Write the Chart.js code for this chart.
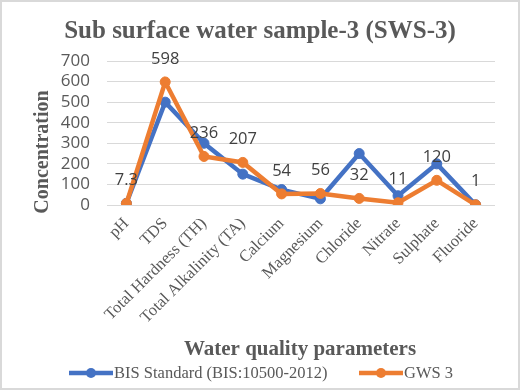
<!DOCTYPE html>
<html lang="en">
<head>
<meta charset="UTF-8">
<title>Sub surface water sample-3 (SWS-3)</title>
<script src="https://cdn.jsdelivr.net/npm/chart.js"></script>
<style>
  html, body { margin: 0; padding: 0; background: #fff; }
  canvas { display: block; }
</style>
</head>
<body>
<canvas id="chart" width="520" height="390"></canvas>
<script>
  // data
  const categories = ['pH', 'TDS', 'Total Hardness (TH)', 'Total Alkalinity (TA)', 'Calcium',
                      'Magnesium', 'Chloride', 'Nitrate', 'Sulphate', 'Fluoride'];
  const bisStandard = [8.5, 500, 300, 150, 75, 30, 250, 45, 200, 1];
  const gws3 = [7.3, 598, 236, 207, 54, 56, 32, 11, 120, 1];
  const gwsLabels = ['7.3', '598', '236', '207', '54', '56', '32', '11', '120', '1'];
  const seriesNames = ['BIS Standard (BIS:10500-2012)', 'GWS 3'];
  const yMin = 0, yMax = 700, yStep = 100;

  const BLUE = '#4472C4', ORANGE = '#ED7D31', GREY = '#595959';
  const SERIF = '"Liberation Serif", "Times New Roman", serif';
  const SANS = '"Open Sans", "Liberation Sans", sans-serif';

  // white card with thin grey frame
  const frame = {
    id: 'frame',
    beforeDraw(chart) {
      const c = chart.ctx;
      c.save();
      c.fillStyle = '#fff';
      c.fillRect(0, 0, chart.width, chart.height);
      c.strokeStyle = '#d9d9d9';
      c.lineWidth = 2;
      c.strokeRect(1, 1, chart.width - 2, chart.height - 2);
      c.restore();
    }
  };

  // value labels above the GWS 3 points
  const valueLabels = {
    id: 'valueLabels',
    afterDatasetsDraw(chart) {
      const c = chart.ctx;
      const pts = chart.getDatasetMeta(1).data;
      c.save();
      c.font = '16.5px ' + SANS;
      c.fillStyle = '#404040';
      c.textAlign = 'center';
      c.textBaseline = 'middle';
      pts.forEach((p, i) => c.fillText(gwsLabels[i], p.x, p.y - 23));
      c.restore();
    }
  };

  // titles and legend, placed like the Excel original
  const texts = {
    id: 'texts',
    afterDraw(chart) {
      const c = chart.ctx;
      c.save();
      c.fillStyle = GREY;
      c.textAlign = 'center';
      c.textBaseline = 'middle';
      c.font = 'bold 25px ' + SERIF;
      c.fillText('Sub surface water sample-3 (SWS-3)', 260, 32);
      c.font = 'bold 21px ' + SERIF;
      c.fillText('Water quality parameters', 300, 350);
      c.save();
      c.translate(43, 152);
      c.rotate(-Math.PI / 2);
      c.font = 'bold 20px ' + SERIF;
      c.fillText('Concentration', 0, 0);
      c.restore();

      // legend
      const items = [
        { x: 69, color: BLUE, text: seriesNames[0] },
        { x: 359, color: ORANGE, text: seriesNames[1] }
      ];
      c.font = '16.5px ' + SERIF;
      c.textAlign = 'left';
      items.forEach(it => {
        c.strokeStyle = it.color;
        c.lineWidth = 4.5;
        c.beginPath();
        c.moveTo(it.x, 373);
        c.lineTo(it.x + 44, 373);
        c.stroke();
        c.fillStyle = it.color;
        c.beginPath();
        c.arc(it.x + 22, 373, 5, 0, Math.PI * 2);
        c.fill();
        c.fillStyle = GREY;
        c.fillText(it.text, it.x + 45, 374);
      });
      c.restore();
    }
  };

  new Chart(document.getElementById('chart'), {
    type: 'line',
    data: {
      labels: categories,
      datasets: [
        {
          label: seriesNames[0], data: bisStandard, order: 1,
          borderColor: BLUE, backgroundColor: BLUE, borderWidth: 4.5,
          pointRadius: 5, pointBorderWidth: 1, pointBackgroundColor: BLUE, pointBorderColor: BLUE,
          tension: 0
        },
        {
          label: seriesNames[1], data: gws3, order: 0,
          borderColor: ORANGE, backgroundColor: ORANGE, borderWidth: 4.5,
          pointRadius: 5, pointBorderWidth: 1, pointBackgroundColor: ORANGE, pointBorderColor: ORANGE,
          tension: 0
        }
      ]
    },
    options: {
      responsive: false,
      animation: false,
      layout: { padding: { top: 61, right: 25, bottom: 0, left: 0 } },
      plugins: {
        legend: { display: false },
        title: { display: false },
        tooltip: { enabled: false }
      },
      scales: {
        x: {
          offset: true,
          grid: { display: false, drawTicks: false },
          border: { display: false },
          ticks: {
            autoSkip: false, maxRotation: 45, minRotation: 45, padding: 9,
            color: GREY, font: { family: SERIF, size: 16.5 }
          },
          afterFit(scale) { scale.height = 185; }
        },
        y: {
          min: yMin, max: yMax,
          grid: { color: '#d9d9d9', lineWidth: 1, drawTicks: false },
          border: { display: false },
          ticks: {
            stepSize: yStep, autoSkip: false, padding: 17,
            color: GREY, font: { family: SANS, size: 17 }
          },
          afterFit(scale) { scale.width = 107; }
        }
      }
    },
    plugins: [frame, valueLabels, texts]
  });
</script>
</body>
</html>
